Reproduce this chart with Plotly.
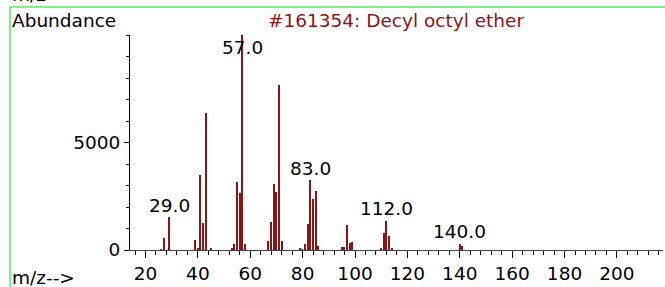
import plotly.graph_objects as go

# ---- data ----
mz = [26, 27, 29, 39, 40, 41, 42, 43, 45, 53, 54, 55, 56, 57, 58,
      67, 68, 69, 70, 71, 72, 79, 80, 81, 82, 83, 84, 85, 86,
      95, 96, 97, 98, 99, 110, 111, 112, 113, 114, 140, 141]
abundance = [40, 570, 1520, 470, 60, 3490, 1270, 6385, 80, 100, 265, 3160, 2665, 10000, 280,
             435, 1300, 3070, 2690, 7660, 420, 60, 40, 265, 1210, 3255, 2370, 2730, 170,
             125, 150, 1160, 310, 390, 50, 775, 1360, 650, 50, 295, 200]
labeled_mz = [29, 57, 83, 112, 140]
x_tick_vals = [20, 40, 60, 80, 100, 120, 140, 160, 180, 200]
y_tick_vals = [0, 5000]
title_text = "#161354: Decyl octyl ether"
y_title = "Abundance"
x_title = "m/z-->"

W, H = 665, 287
ML, MR, MT, MB = 130, 2, 35, 37
PW, PH = W - ML - MR, H - MT - MB

def px(xp):
    return (xp - ML) / PW

def py(yp):
    return (H - MB - yp) / PH

FONT = "DejaVu Sans"
FS = 18.5
RED = "#8b1414"

fig = go.Figure()
fig.add_trace(go.Bar(x=mz, y=abundance, width=0.5,
                     marker=dict(color=RED, line=dict(width=0)),
                     hoverinfo="skip"))

ab_map = dict(zip(mz, abundance))
LABEL_CAP = 8880
for m in labeled_mz:
    fig.add_annotation(x=m, y=min(ab_map[m], LABEL_CAP), text=f"{m:.1f}",
                       showarrow=False, yanchor="middle", xanchor="center",
                       yshift=12, font=dict(family=FONT, size=FS, color="black"))

fig.add_annotation(xref="paper", yref="paper", x=px(10), y=py(20), text=y_title,
                   showarrow=False, xanchor="left", yanchor="middle",
                   font=dict(family=FONT, size=FS, color="black"))
fig.add_annotation(xref="paper", yref="paper", x=px(396), y=py(20), text=title_text,
                   showarrow=False, xanchor="center", yanchor="middle",
                   font=dict(family=FONT, size=FS, color=RED))
fig.add_annotation(xref="paper", yref="paper", x=px(10), y=py(277), text=x_title,
                   showarrow=False, xanchor="left", yanchor="middle",
                   font=dict(family=FONT, size=FS, color="black"))
fig.add_annotation(xref="paper", yref="paper", x=px(10), y=py(-5.5), text=x_title,
                   showarrow=False, xanchor="left", yanchor="middle",
                   font=dict(family=FONT, size=FS, color="black"))

GREEN = "#80f080"
fig.add_shape(type="line", xref="paper", yref="paper", x0=px(10), x1=px(670),
              y0=py(7), y1=py(7), line=dict(color=GREEN, width=2))
fig.add_shape(type="line", xref="paper", yref="paper", x0=px(10), x1=px(10),
              y0=py(7), y1=py(295), line=dict(color=GREEN, width=2))

fig.update_layout(
    width=W, height=H, margin=dict(l=ML, r=MR, t=MT, b=MB),
    paper_bgcolor="white", plot_bgcolor="white", showlegend=False,
    bargap=0,
    xaxis=dict(range=[14.08, 217.6], tickvals=x_tick_vals, ticks="outside", ticklen=7,
               tickcolor="black", showline=True, linecolor="#444", linewidth=1,
               showgrid=False, zeroline=False,
               tickfont=dict(family=FONT, size=FS, color="black"),
               minor=dict(dtick=4, tick0=0, ticks="outside", ticklen=4, tickcolor="black")),
    yaxis=dict(range=[0, 10000], tickvals=y_tick_vals, ticks="outside", ticklen=5,
               tickcolor="black", showline=True, linecolor="black", linewidth=1,
               showgrid=False, zeroline=False,
               tickfont=dict(family=FONT, size=FS, color="black"),
               minor=dict(dtick=1000, tick0=0, ticks="outside", ticklen=3, tickcolor="black")),
)

fig.write_html("out.html", config={"displayModeBar": False},
               post_script="document.body.style.margin='0';document.body.style.overflow='hidden';")
